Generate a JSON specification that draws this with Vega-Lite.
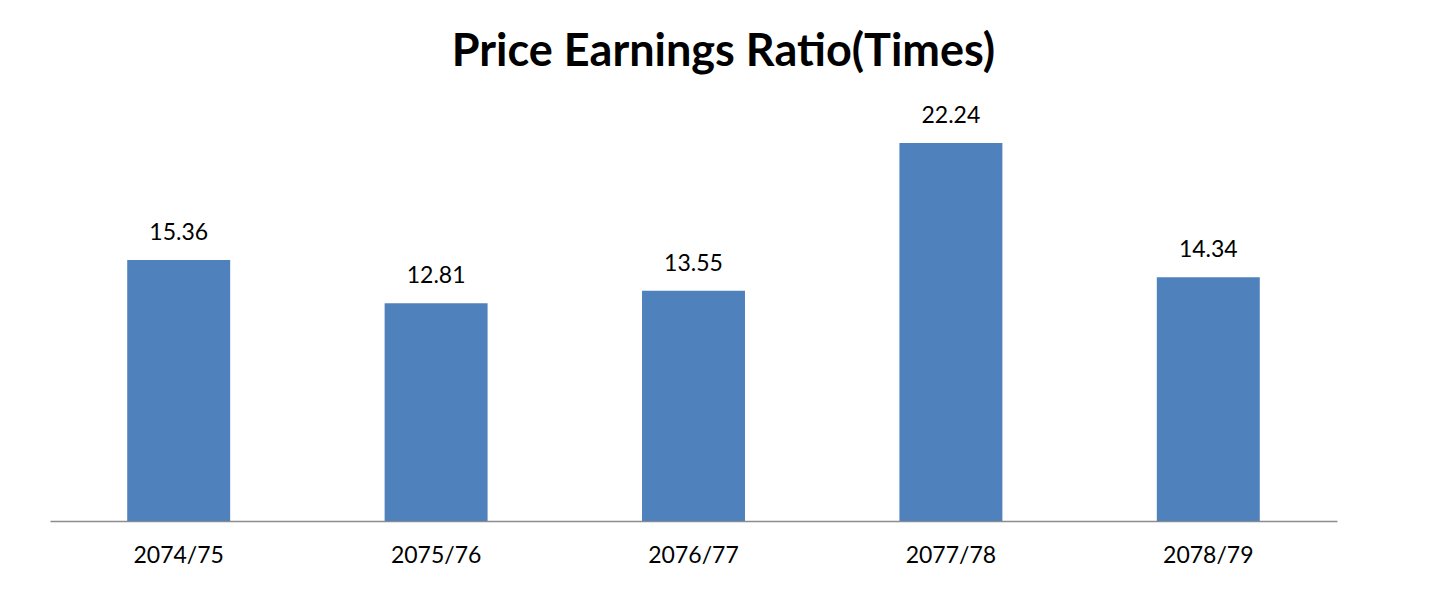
{
  "$schema": "https://vega.github.io/schema/vega-lite/v6.json",
  "width": 1287,
  "height": 425,
  "autosize": {"type": "none"},
  "padding": {"left": 50, "top": 96, "right": 110, "bottom": 69},
  "background": "white",
  "title": {
    "text": "Price Earnings Ratio(Times)",
    "font": "Lato",
    "fontSize": 45,
    "fontWeight": "bold",
    "color": "black",
    "anchor": "middle",
    "frame": "group",
    "baseline": "alphabetic",
    "offset": -15,
    "dx": 30
  },
  "data": {
    "values": [
      {"year": "2074/75", "pe": 15.36},
      {"year": "2075/76", "pe": 12.81},
      {"year": "2076/77", "pe": 13.55},
      {"year": "2077/78", "pe": 22.24},
      {"year": "2078/79", "pe": 14.34}
    ]
  },
  "encoding": {
    "x": {
      "field": "year",
      "type": "nominal",
      "sort": null,
      "scale": {"paddingInner": 0.6, "paddingOuter": 0.3},
      "axis": {
        "title": null,
        "labelAngle": 0,
        "labelFont": "Lato",
        "labelFontSize": 23,
        "labelColor": "black",
        "labelPadding": 23,
        "ticks": false,
        "domainColor": "#8c8c8c",
        "domainWidth": 1.5,
        "grid": false
      }
    },
    "y": {
      "field": "pe",
      "type": "quantitative",
      "scale": {"domain": [0, 25], "nice": false},
      "axis": null
    }
  },
  "layer": [
    {"mark": {"type": "bar", "color": "#4F81BD"}},
    {
      "mark": {
        "type": "text",
        "font": "Lato",
        "fontSize": 23,
        "color": "black",
        "baseline": "alphabetic",
        "dy": -20
      },
      "encoding": {"text": {"field": "pe", "type": "quantitative", "format": ".2f"}}
    }
  ],
  "config": {"view": {"stroke": null}}
}
